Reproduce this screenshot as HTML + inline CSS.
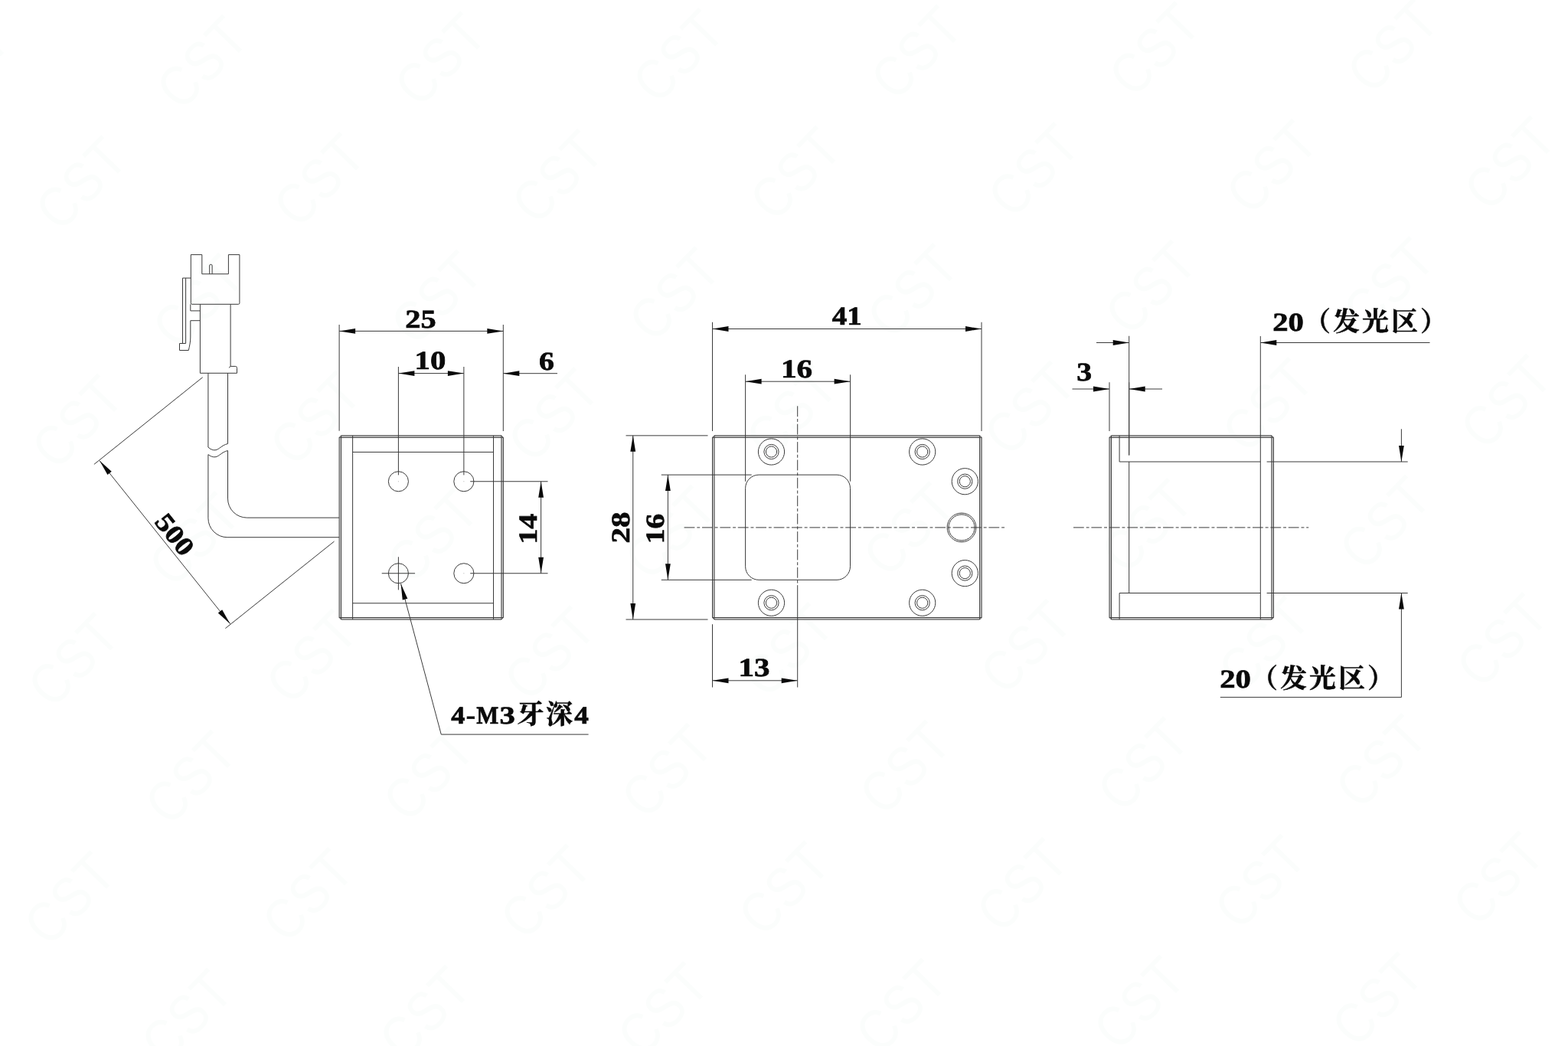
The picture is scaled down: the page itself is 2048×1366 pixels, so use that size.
<!DOCTYPE html>
<html lang="zh">
<head>
<meta charset="utf-8">
<title>Dimension drawing</title>
<style>
html,body{margin:0;padding:0;background:#fff;}
body{width:2048px;height:1366px;overflow:hidden;font-family:"Liberation Serif",serif;}
svg{display:block;will-change:transform;}
.l{stroke:#3a3a3a;stroke-width:1;fill:none;}
.cl{stroke-dasharray:13.8 2.9 3.9 2.8;}
.a{fill:#0a0a0a;stroke:none;}
.band{fill:#d2d2d2;stroke:none;}
.dot{fill:#aaa;stroke:none;}
text{text-rendering:geometricPrecision;}
.t{font-family:"Liberation Serif",serif;font-weight:bold;font-size:35px;fill:#0a0a0a;stroke:#0a0a0a;stroke-width:0.7;}
.t2{font-size:33.5px;}
.tc{font-family:"Liberation Serif","Noto Serif CJK SC",serif;font-weight:bold;fill:#0a0a0a;stroke:#0a0a0a;stroke-width:0.5;}
.wm text{font-family:"Liberation Sans",sans-serif;font-size:74px;fill:#fbfdfc;letter-spacing:2px;}
</style>
</head>
<body>
<svg width="2048" height="1366" viewBox="0 0 2048 1366">
<g class="wm">
<text transform="translate(111.0,-72.5) rotate(-45.8) scale(0.86,1)" text-anchor="middle" y="26">CST</text>
<text transform="translate(422.0,-76.8) rotate(-45.8) scale(0.86,1)" text-anchor="middle" y="26">CST</text>
<text transform="translate(733.0,-81.1) rotate(-45.8) scale(0.86,1)" text-anchor="middle" y="26">CST</text>
<text transform="translate(1044.0,-85.4) rotate(-45.8) scale(0.86,1)" text-anchor="middle" y="26">CST</text>
<text transform="translate(1355.0,-89.7) rotate(-45.8) scale(0.86,1)" text-anchor="middle" y="26">CST</text>
<text transform="translate(1666.0,-94.0) rotate(-45.8) scale(0.86,1)" text-anchor="middle" y="26">CST</text>
<text transform="translate(1977.0,-98.3) rotate(-45.8) scale(0.86,1)" text-anchor="middle" y="26">CST</text>
<text transform="translate(-47.0,85.3) rotate(-45.8) scale(0.86,1)" text-anchor="middle" y="26">CST</text>
<text transform="translate(264.0,81.0) rotate(-45.8) scale(0.86,1)" text-anchor="middle" y="26">CST</text>
<text transform="translate(575.0,76.7) rotate(-45.8) scale(0.86,1)" text-anchor="middle" y="26">CST</text>
<text transform="translate(886.0,72.4) rotate(-45.8) scale(0.86,1)" text-anchor="middle" y="26">CST</text>
<text transform="translate(1197.0,68.1) rotate(-45.8) scale(0.86,1)" text-anchor="middle" y="26">CST</text>
<text transform="translate(1508.0,63.8) rotate(-45.8) scale(0.86,1)" text-anchor="middle" y="26">CST</text>
<text transform="translate(1819.0,59.5) rotate(-45.8) scale(0.86,1)" text-anchor="middle" y="26">CST</text>
<text transform="translate(2130.0,55.2) rotate(-45.8) scale(0.86,1)" text-anchor="middle" y="26">CST</text>
<text transform="translate(106.0,238.8) rotate(-45.8) scale(0.86,1)" text-anchor="middle" y="26">CST</text>
<text transform="translate(417.0,234.5) rotate(-45.8) scale(0.86,1)" text-anchor="middle" y="26">CST</text>
<text transform="translate(728.0,230.2) rotate(-45.8) scale(0.86,1)" text-anchor="middle" y="26">CST</text>
<text transform="translate(1039.0,225.9) rotate(-45.8) scale(0.86,1)" text-anchor="middle" y="26">CST</text>
<text transform="translate(1350.0,221.6) rotate(-45.8) scale(0.86,1)" text-anchor="middle" y="26">CST</text>
<text transform="translate(1661.0,217.3) rotate(-45.8) scale(0.86,1)" text-anchor="middle" y="26">CST</text>
<text transform="translate(1972.0,213.0) rotate(-45.8) scale(0.86,1)" text-anchor="middle" y="26">CST</text>
<text transform="translate(-52.0,396.6) rotate(-45.8) scale(0.86,1)" text-anchor="middle" y="26">CST</text>
<text transform="translate(259.0,392.3) rotate(-45.8) scale(0.86,1)" text-anchor="middle" y="26">CST</text>
<text transform="translate(570.0,388.0) rotate(-45.8) scale(0.86,1)" text-anchor="middle" y="26">CST</text>
<text transform="translate(881.0,383.7) rotate(-45.8) scale(0.86,1)" text-anchor="middle" y="26">CST</text>
<text transform="translate(1192.0,379.4) rotate(-45.8) scale(0.86,1)" text-anchor="middle" y="26">CST</text>
<text transform="translate(1503.0,375.1) rotate(-45.8) scale(0.86,1)" text-anchor="middle" y="26">CST</text>
<text transform="translate(1814.0,370.8) rotate(-45.8) scale(0.86,1)" text-anchor="middle" y="26">CST</text>
<text transform="translate(2125.0,366.5) rotate(-45.8) scale(0.86,1)" text-anchor="middle" y="26">CST</text>
<text transform="translate(101.0,550.1) rotate(-45.8) scale(0.86,1)" text-anchor="middle" y="26">CST</text>
<text transform="translate(412.0,545.8) rotate(-45.8) scale(0.86,1)" text-anchor="middle" y="26">CST</text>
<text transform="translate(723.0,541.5) rotate(-45.8) scale(0.86,1)" text-anchor="middle" y="26">CST</text>
<text transform="translate(1034.0,537.2) rotate(-45.8) scale(0.86,1)" text-anchor="middle" y="26">CST</text>
<text transform="translate(1345.0,532.9) rotate(-45.8) scale(0.86,1)" text-anchor="middle" y="26">CST</text>
<text transform="translate(1656.0,528.6) rotate(-45.8) scale(0.86,1)" text-anchor="middle" y="26">CST</text>
<text transform="translate(1967.0,524.3) rotate(-45.8) scale(0.86,1)" text-anchor="middle" y="26">CST</text>
<text transform="translate(-57.0,707.9) rotate(-45.8) scale(0.86,1)" text-anchor="middle" y="26">CST</text>
<text transform="translate(254.0,703.6) rotate(-45.8) scale(0.86,1)" text-anchor="middle" y="26">CST</text>
<text transform="translate(565.0,699.3) rotate(-45.8) scale(0.86,1)" text-anchor="middle" y="26">CST</text>
<text transform="translate(876.0,695.0) rotate(-45.8) scale(0.86,1)" text-anchor="middle" y="26">CST</text>
<text transform="translate(1187.0,690.7) rotate(-45.8) scale(0.86,1)" text-anchor="middle" y="26">CST</text>
<text transform="translate(1498.0,686.4) rotate(-45.8) scale(0.86,1)" text-anchor="middle" y="26">CST</text>
<text transform="translate(1809.0,682.1) rotate(-45.8) scale(0.86,1)" text-anchor="middle" y="26">CST</text>
<text transform="translate(2120.0,677.8) rotate(-45.8) scale(0.86,1)" text-anchor="middle" y="26">CST</text>
<text transform="translate(96.0,861.4) rotate(-45.8) scale(0.86,1)" text-anchor="middle" y="26">CST</text>
<text transform="translate(407.0,857.1) rotate(-45.8) scale(0.86,1)" text-anchor="middle" y="26">CST</text>
<text transform="translate(718.0,852.8) rotate(-45.8) scale(0.86,1)" text-anchor="middle" y="26">CST</text>
<text transform="translate(1029.0,848.5) rotate(-45.8) scale(0.86,1)" text-anchor="middle" y="26">CST</text>
<text transform="translate(1340.0,844.2) rotate(-45.8) scale(0.86,1)" text-anchor="middle" y="26">CST</text>
<text transform="translate(1651.0,839.9) rotate(-45.8) scale(0.86,1)" text-anchor="middle" y="26">CST</text>
<text transform="translate(1962.0,835.6) rotate(-45.8) scale(0.86,1)" text-anchor="middle" y="26">CST</text>
<text transform="translate(-62.0,1019.2) rotate(-45.8) scale(0.86,1)" text-anchor="middle" y="26">CST</text>
<text transform="translate(249.0,1014.9) rotate(-45.8) scale(0.86,1)" text-anchor="middle" y="26">CST</text>
<text transform="translate(560.0,1010.6) rotate(-45.8) scale(0.86,1)" text-anchor="middle" y="26">CST</text>
<text transform="translate(871.0,1006.3) rotate(-45.8) scale(0.86,1)" text-anchor="middle" y="26">CST</text>
<text transform="translate(1182.0,1002.0) rotate(-45.8) scale(0.86,1)" text-anchor="middle" y="26">CST</text>
<text transform="translate(1493.0,997.7) rotate(-45.8) scale(0.86,1)" text-anchor="middle" y="26">CST</text>
<text transform="translate(1804.0,993.4) rotate(-45.8) scale(0.86,1)" text-anchor="middle" y="26">CST</text>
<text transform="translate(2115.0,989.1) rotate(-45.8) scale(0.86,1)" text-anchor="middle" y="26">CST</text>
<text transform="translate(91.0,1172.7) rotate(-45.8) scale(0.86,1)" text-anchor="middle" y="26">CST</text>
<text transform="translate(402.0,1168.4) rotate(-45.8) scale(0.86,1)" text-anchor="middle" y="26">CST</text>
<text transform="translate(713.0,1164.1) rotate(-45.8) scale(0.86,1)" text-anchor="middle" y="26">CST</text>
<text transform="translate(1024.0,1159.8) rotate(-45.8) scale(0.86,1)" text-anchor="middle" y="26">CST</text>
<text transform="translate(1335.0,1155.5) rotate(-45.8) scale(0.86,1)" text-anchor="middle" y="26">CST</text>
<text transform="translate(1646.0,1151.2) rotate(-45.8) scale(0.86,1)" text-anchor="middle" y="26">CST</text>
<text transform="translate(1957.0,1146.9) rotate(-45.8) scale(0.86,1)" text-anchor="middle" y="26">CST</text>
<text transform="translate(-67.0,1330.5) rotate(-45.8) scale(0.86,1)" text-anchor="middle" y="26">CST</text>
<text transform="translate(244.0,1326.2) rotate(-45.8) scale(0.86,1)" text-anchor="middle" y="26">CST</text>
<text transform="translate(555.0,1321.9) rotate(-45.8) scale(0.86,1)" text-anchor="middle" y="26">CST</text>
<text transform="translate(866.0,1317.6) rotate(-45.8) scale(0.86,1)" text-anchor="middle" y="26">CST</text>
<text transform="translate(1177.0,1313.3) rotate(-45.8) scale(0.86,1)" text-anchor="middle" y="26">CST</text>
<text transform="translate(1488.0,1309.0) rotate(-45.8) scale(0.86,1)" text-anchor="middle" y="26">CST</text>
<text transform="translate(1799.0,1304.7) rotate(-45.8) scale(0.86,1)" text-anchor="middle" y="26">CST</text>
<text transform="translate(2110.0,1300.4) rotate(-45.8) scale(0.86,1)" text-anchor="middle" y="26">CST</text>
<text transform="translate(86.0,1484.0) rotate(-45.8) scale(0.86,1)" text-anchor="middle" y="26">CST</text>
<text transform="translate(397.0,1479.7) rotate(-45.8) scale(0.86,1)" text-anchor="middle" y="26">CST</text>
<text transform="translate(708.0,1475.4) rotate(-45.8) scale(0.86,1)" text-anchor="middle" y="26">CST</text>
<text transform="translate(1019.0,1471.1) rotate(-45.8) scale(0.86,1)" text-anchor="middle" y="26">CST</text>
<text transform="translate(1330.0,1466.8) rotate(-45.8) scale(0.86,1)" text-anchor="middle" y="26">CST</text>
<text transform="translate(1641.0,1462.5) rotate(-45.8) scale(0.86,1)" text-anchor="middle" y="26">CST</text>
<text transform="translate(1952.0,1458.2) rotate(-45.8) scale(0.86,1)" text-anchor="middle" y="26">CST</text>
</g>
<path class="l" d="M249.3,332.6 H263.8 V357.8 H298.4 V332.6 H312.9 V395.8 Q312.9,397.3 311.4,397.3 H250.8 Q249.3,397.3 249.3,395.8 Z"/>
<path class="l" d="M273.7,357.8 V347.0 A1.7,1.7 0 0 1 277.1,347.0 V357.8"/>
<path class="l" d="M261.4,397.3 V487.3 H309.5 V480.6 Q309.5,478.4 307.4,478.4 H301.3 Q299.8,478.7 299.4,480.4"/>
<path class="l" d="M301.1,397.3 V478.4"/>
<path class="l" d="M249.2,363.1 H238.5 V448.5"/>
<path class="l" d="M242.6,363.1 V448.5"/>
<path class="l" d="M242.6,448.5 H234.5 V457.5 H246.3 C247.6,452 248.8,446 248.8,441 V418.7 H261.4"/>
<path class="l" d="M248.8,397.3 V405.9 H261.4"/>
<path class="l" d="M271.9,487.3 V584.1 C275,586.8 278,588.1 281,587.8 C286.5,587.2 289,581.5 297.5,579.5 V487.3"/>
<path class="l" d="M271.9,593.6 C275,596.0 278,597.1 281,596.8 C286.5,596.2 289,590.5 297.5,588.5"/>
<path class="l" d="M271.9,593.6 V676.7 A25,25 0 0 0 296.9,701.7 H443.2"/>
<path class="l" d="M297.5,588.5 V651.1 A25,25 0 0 0 322.5,676.1 H443.2"/>
<line class="l" x1="264.70" y1="492.70" x2="122.90" y2="606.40"/>
<line class="l" x1="436.50" y1="707.00" x2="294.40" y2="820.60"/>
<line class="l" x1="130.00" y1="601.60" x2="300.60" y2="814.70"/>
<polygon class="a" points="130.00,601.60 145.78,615.87 140.47,620.12"/>
<polygon class="a" points="300.60,814.70 284.82,800.43 290.13,796.18"/>
<text class="t" style="font-size:34.3px" text-anchor="middle" transform="translate(215.30,708.15) rotate(51.32) translate(0.3,-4.9) scale(1.16,1)">500</text>
<path class="band" d="M445.6,568.85 H654.9 V571.35 H445.6 Z M445.6,806.5 H654.9 V809.0 H445.6 Z M443.1,571.35 H445.6 V806.5 H443.1 Z M654.9,571.35 H657.4 V806.5 H654.9 Z"/>
<path class="l" d="M445.60,568.85 H654.90 L657.40,571.35 V806.50 L654.90,809.00 H445.60 L443.10,806.50 V571.35 Z"/>
<line class="l" x1="445.60" y1="568.85" x2="445.60" y2="809.00"/>
<line class="l" x1="654.90" y1="568.85" x2="654.90" y2="809.00"/>
<line class="l" x1="443.10" y1="571.35" x2="657.40" y2="571.35"/>
<line class="l" x1="443.10" y1="806.50" x2="657.40" y2="806.50"/>
<line class="l" x1="460.60" y1="568.85" x2="460.60" y2="809.00"/>
<line class="l" x1="644.50" y1="568.85" x2="644.50" y2="809.00"/>
<line class="l" x1="460.60" y1="590.40" x2="644.50" y2="590.40"/>
<line class="l" x1="460.60" y1="787.75" x2="644.50" y2="787.75"/>
<circle class="l" cx="520.40" cy="628.75" r="13.05"/>
<circle class="dot" cx="520.40" cy="628.75" r="0.60"/>
<circle class="l" cx="520.40" cy="748.75" r="13.05"/>
<circle class="dot" cx="520.40" cy="748.75" r="0.60"/>
<circle class="l" cx="605.85" cy="628.75" r="13.05"/>
<circle class="dot" cx="605.85" cy="628.75" r="0.60"/>
<circle class="l" cx="605.85" cy="748.75" r="13.05"/>
<circle class="dot" cx="605.85" cy="748.75" r="0.60"/>
<line class="l" x1="498.70" y1="748.75" x2="542.05" y2="748.75"/>
<line class="l" x1="520.40" y1="727.30" x2="520.40" y2="770.40"/>
<line class="l" x1="443.10" y1="424.00" x2="443.10" y2="562.70"/>
<line class="l" x1="657.30" y1="424.00" x2="657.30" y2="563.00"/>
<line class="l" x1="443.10" y1="432.40" x2="657.30" y2="432.40"/>
<polygon class="a" points="443.10,432.40 464.10,429.00 464.10,435.80"/>
<polygon class="a" points="657.30,432.40 636.30,435.80 636.30,429.00"/>
<text class="t" transform="translate(529.35,427.50) scale(1.1875,1)" style="font-size:34px">25</text>
<line class="l" x1="520.40" y1="479.00" x2="520.40" y2="620.40"/>
<line class="l" x1="605.85" y1="479.00" x2="605.85" y2="620.40"/>
<line class="l" x1="520.40" y1="487.60" x2="605.90" y2="487.60"/>
<polygon class="a" points="520.40,487.60 541.40,484.20 541.40,491.00"/>
<polygon class="a" points="605.90,487.60 584.90,491.00 584.90,484.20"/>
<text class="t" transform="translate(541.59,482.40) scale(1.1974,1)" style="font-size:34px">10</text>
<line class="l" x1="657.30" y1="487.70" x2="728.00" y2="487.70"/>
<polygon class="a" points="657.30,487.70 678.30,484.30 678.30,491.10"/>
<text class="t" transform="translate(704.09,482.60) scale(1.1724,1)" style="font-size:34px">6</text>
<line class="l" x1="614.20" y1="628.75" x2="715.50" y2="628.75"/>
<line class="l" x1="614.20" y1="748.75" x2="715.50" y2="748.75"/>
<line class="l" x1="706.60" y1="628.75" x2="706.60" y2="748.75"/>
<polygon class="a" points="706.60,628.75 710.00,649.75 703.20,649.75"/>
<polygon class="a" points="706.60,748.75 703.20,727.75 710.00,727.75"/>
<text class="t" transform="translate(701.15,707.70) rotate(-90) translate(-2.83,0) scale(1.1698,1)" style="font-size:34px">14</text>
<line class="l" x1="523.60" y1="762.40" x2="576.25" y2="959.10"/>
<line class="l" x1="576.25" y1="959.10" x2="768.60" y2="959.10"/>
<polygon class="a" points="523.60,762.40 532.31,781.81 525.75,783.56"/>
<text class="t" transform="translate(589.16,944.60) scale(1.1116,1)" style="font-size:32.5px">4</text>
<text class="t" transform="translate(608.81,944.60) scale(1.1253,1)" style="font-size:32.5px">-</text>
<text class="t" transform="translate(622.32,944.60) scale(0.9457,1)" style="font-size:32.5px">M</text>
<text class="t" transform="translate(652.52,944.60) scale(1.2502,1)" style="font-size:32.5px">3</text>
<text class="tc" x="675.2" y="945.3" style="font-size:35.5px">牙</text>
<text class="tc" x="713.1" y="945.0" style="font-size:35.2px">深</text>
<text class="t" transform="translate(750.24,944.60) scale(1.1445,1)" style="font-size:32.5px">4</text>
<path class="band" d="M933.0,568.85 H1279.6 V571.35 H933.0 Z M933.0,806.5 H1279.6 V809.0 H933.0 Z M930.5,571.35 H933.0 V806.5 H930.5 Z M1279.6,571.35 H1282.1 V806.5 H1279.6 Z"/>
<path class="l" d="M933.00,568.85 H1279.60 L1282.10,571.35 V806.50 L1279.60,809.00 H933.00 L930.50,806.50 V571.35 Z"/>
<line class="l" x1="933.00" y1="568.85" x2="933.00" y2="809.00"/>
<line class="l" x1="1279.60" y1="568.85" x2="1279.60" y2="809.00"/>
<line class="l" x1="930.50" y1="571.35" x2="1282.10" y2="571.35"/>
<line class="l" x1="930.50" y1="806.50" x2="1282.10" y2="806.50"/>
<path class="l" d="M991.1,620.1 H1093.0 A17.5,17.5 0 0 1 1110.5,637.6 V739.8 A17.5,17.5 0 0 1 1093.0,757.3 H991.1 A17.5,17.5 0 0 1 973.6,739.8 V637.6 A17.5,17.5 0 0 1 991.1,620.1 Z"/>
<circle class="l" cx="1007.50" cy="590.00" r="17.10"/>
<circle class="l" cx="1007.50" cy="590.00" r="9.60"/>
<circle class="l" cx="1007.50" cy="590.00" r="7.10"/>
<circle class="l" cx="1204.70" cy="590.00" r="17.10"/>
<circle class="l" cx="1204.70" cy="590.00" r="9.60"/>
<circle class="l" cx="1204.70" cy="590.00" r="7.10"/>
<circle class="l" cx="1260.30" cy="628.70" r="17.10"/>
<circle class="l" cx="1260.30" cy="628.70" r="9.60"/>
<circle class="l" cx="1260.30" cy="628.70" r="7.10"/>
<circle class="l" cx="1260.30" cy="748.60" r="17.10"/>
<circle class="l" cx="1260.30" cy="748.60" r="9.60"/>
<circle class="l" cx="1260.30" cy="748.60" r="7.10"/>
<circle class="l" cx="1007.50" cy="787.25" r="17.10"/>
<circle class="l" cx="1007.50" cy="787.25" r="9.60"/>
<circle class="l" cx="1007.50" cy="787.25" r="7.10"/>
<circle class="l" cx="1204.70" cy="787.25" r="17.10"/>
<circle class="l" cx="1204.70" cy="787.25" r="9.60"/>
<circle class="l" cx="1204.70" cy="787.25" r="7.10"/>
<circle class="l" cx="1256.00" cy="688.90" r="18.90"/>
<circle class="l" cx="1256.00" cy="688.90" r="17.00"/>
<line class="l cl" x1="893.60" y1="688.90" x2="1312.60" y2="688.90"/>
<line class="l cl" x1="1041.70" y1="530.30" x2="1041.70" y2="762.00"/>
<line class="l" x1="1041.70" y1="764.20" x2="1041.70" y2="897.60"/>
<line class="l" x1="930.50" y1="420.75" x2="930.50" y2="563.00"/>
<line class="l" x1="1282.00" y1="420.75" x2="1282.00" y2="563.00"/>
<line class="l" x1="930.50" y1="429.50" x2="1282.00" y2="429.50"/>
<polygon class="a" points="930.50,429.50 951.50,426.10 951.50,432.90"/>
<polygon class="a" points="1282.00,429.50 1261.00,432.90 1261.00,426.10"/>
<text class="t" transform="translate(1086.82,423.80) scale(1.1424,1)" style="font-size:34px">41</text>
<line class="l" x1="973.60" y1="489.30" x2="973.60" y2="628.70"/>
<line class="l" x1="1110.60" y1="489.30" x2="1110.60" y2="628.70"/>
<line class="l" x1="973.60" y1="498.20" x2="1110.60" y2="498.20"/>
<polygon class="a" points="973.60,498.20 994.60,494.80 994.60,501.60"/>
<polygon class="a" points="1110.60,498.20 1089.60,501.60 1089.60,494.80"/>
<text class="t" transform="translate(1019.94,492.50) scale(1.2153,1)" style="font-size:34px">16</text>
<line class="l" x1="817.50" y1="568.85" x2="924.50" y2="568.85"/>
<line class="l" x1="817.50" y1="809.00" x2="924.50" y2="809.00"/>
<line class="l" x1="826.75" y1="568.85" x2="826.75" y2="809.00"/>
<polygon class="a" points="826.75,568.85 830.15,589.85 823.35,589.85"/>
<polygon class="a" points="826.75,809.00 823.35,788.00 830.15,788.00"/>
<text class="t" transform="translate(821.50,708.20) rotate(-90) translate(-1.38,0) scale(1.2085,1)" style="font-size:34px">28</text>
<line class="l" x1="863.75" y1="620.10" x2="981.70" y2="620.10"/>
<line class="l" x1="863.75" y1="757.30" x2="981.70" y2="757.30"/>
<line class="l" x1="872.40" y1="620.10" x2="872.40" y2="757.30"/>
<polygon class="a" points="872.40,620.10 875.80,641.10 869.00,641.10"/>
<polygon class="a" points="872.40,757.30 869.00,736.30 875.80,736.30"/>
<text class="t" transform="translate(867.10,707.50) rotate(-90) translate(-2.81,0) scale(1.1591,1)" style="font-size:34px">16</text>
<line class="l" x1="930.50" y1="815.25" x2="930.50" y2="897.60"/>
<line class="l" x1="930.50" y1="888.80" x2="1041.70" y2="888.80"/>
<polygon class="a" points="930.50,888.80 951.50,885.40 951.50,892.20"/>
<polygon class="a" points="1041.70,888.80 1020.70,892.20 1020.70,885.40"/>
<text class="t" transform="translate(964.57,883.40) scale(1.2054,1)" style="font-size:34px">13</text>
<path class="band" d="M1451.5,568.85 H1660.9 V571.35 H1451.5 Z M1451.5,806.5 H1660.9 V809.0 H1451.5 Z M1449.0,571.35 H1451.5 V806.5 H1449.0 Z M1660.9,571.35 H1663.4 V806.5 H1660.9 Z"/>
<path class="l" d="M1451.50,568.85 H1660.90 L1663.40,571.35 V806.50 L1660.90,809.00 H1451.50 L1449.00,806.50 V571.35 Z"/>
<line class="l" x1="1451.50" y1="568.85" x2="1451.50" y2="809.00"/>
<line class="l" x1="1660.90" y1="568.85" x2="1660.90" y2="809.00"/>
<line class="l" x1="1449.00" y1="571.35" x2="1663.40" y2="571.35"/>
<line class="l" x1="1449.00" y1="806.50" x2="1663.40" y2="806.50"/>
<path class="l" d="M1462.1,568.8 V603.0 H1646.3"/>
<path class="l" d="M1462.1,809 V774.5 H1646.3"/>
<line class="l" x1="1474.70" y1="603.00" x2="1474.70" y2="774.50"/>
<line class="l" x1="1646.30" y1="439.00" x2="1646.30" y2="809.00"/>
<line class="l" x1="1474.70" y1="438.75" x2="1474.70" y2="594.50"/>
<line class="l" x1="1474.70" y1="499.25" x2="1474.70" y2="594.50"/>
<line class="l cl" x1="1402.00" y1="688.90" x2="1709.20" y2="688.90"/>
<line class="l" x1="1449.00" y1="499.25" x2="1449.00" y2="563.00"/>
<line class="l" x1="1400.50" y1="508.00" x2="1449.00" y2="508.00"/>
<polygon class="a" points="1449.00,508.00 1428.00,511.40 1428.00,504.60"/>
<line class="l" x1="1474.70" y1="508.00" x2="1518.00" y2="508.00"/>
<polygon class="a" points="1474.70,508.00 1495.70,504.60 1495.70,511.40"/>
<text class="t" transform="translate(1406.16,497.20) scale(1.1676,1)" style="font-size:34px">3</text>
<line class="l" x1="1432.00" y1="447.50" x2="1474.70" y2="447.50"/>
<polygon class="a" points="1474.70,447.50 1453.70,450.90 1453.70,444.10"/>
<line class="l" x1="1646.30" y1="447.50" x2="1867.50" y2="447.50"/>
<polygon class="a" points="1646.30,447.50 1667.30,444.10 1667.30,450.90"/>
<text class="t" transform="translate(1662.14,431.90) scale(1.1958,1)" style="font-size:34px">20</text>
<text class="tc" x="1703" y="431.9" style="font-size:35px;letter-spacing:3px">（发光区）</text>
<text class="t" transform="translate(1593.14,897.90) scale(1.1958,1)" style="font-size:34px">20</text>
<text class="tc" x="1634" y="897.9" style="font-size:35px;letter-spacing:3px">（发光区）</text>
<line class="l" x1="1654.60" y1="603.00" x2="1838.70" y2="603.00"/>
<line class="l" x1="1654.60" y1="774.50" x2="1838.70" y2="774.50"/>
<line class="l" x1="1830.40" y1="560.30" x2="1830.40" y2="603.00"/>
<polygon class="a" points="1830.40,603.00 1827.00,582.00 1833.80,582.00"/>
<line class="l" x1="1830.40" y1="774.50" x2="1830.40" y2="910.60"/>
<polygon class="a" points="1830.40,774.50 1833.80,795.50 1827.00,795.50"/>
<line class="l" x1="1593.80" y1="910.60" x2="1830.40" y2="910.60"/>
</svg>
</body>
</html>
